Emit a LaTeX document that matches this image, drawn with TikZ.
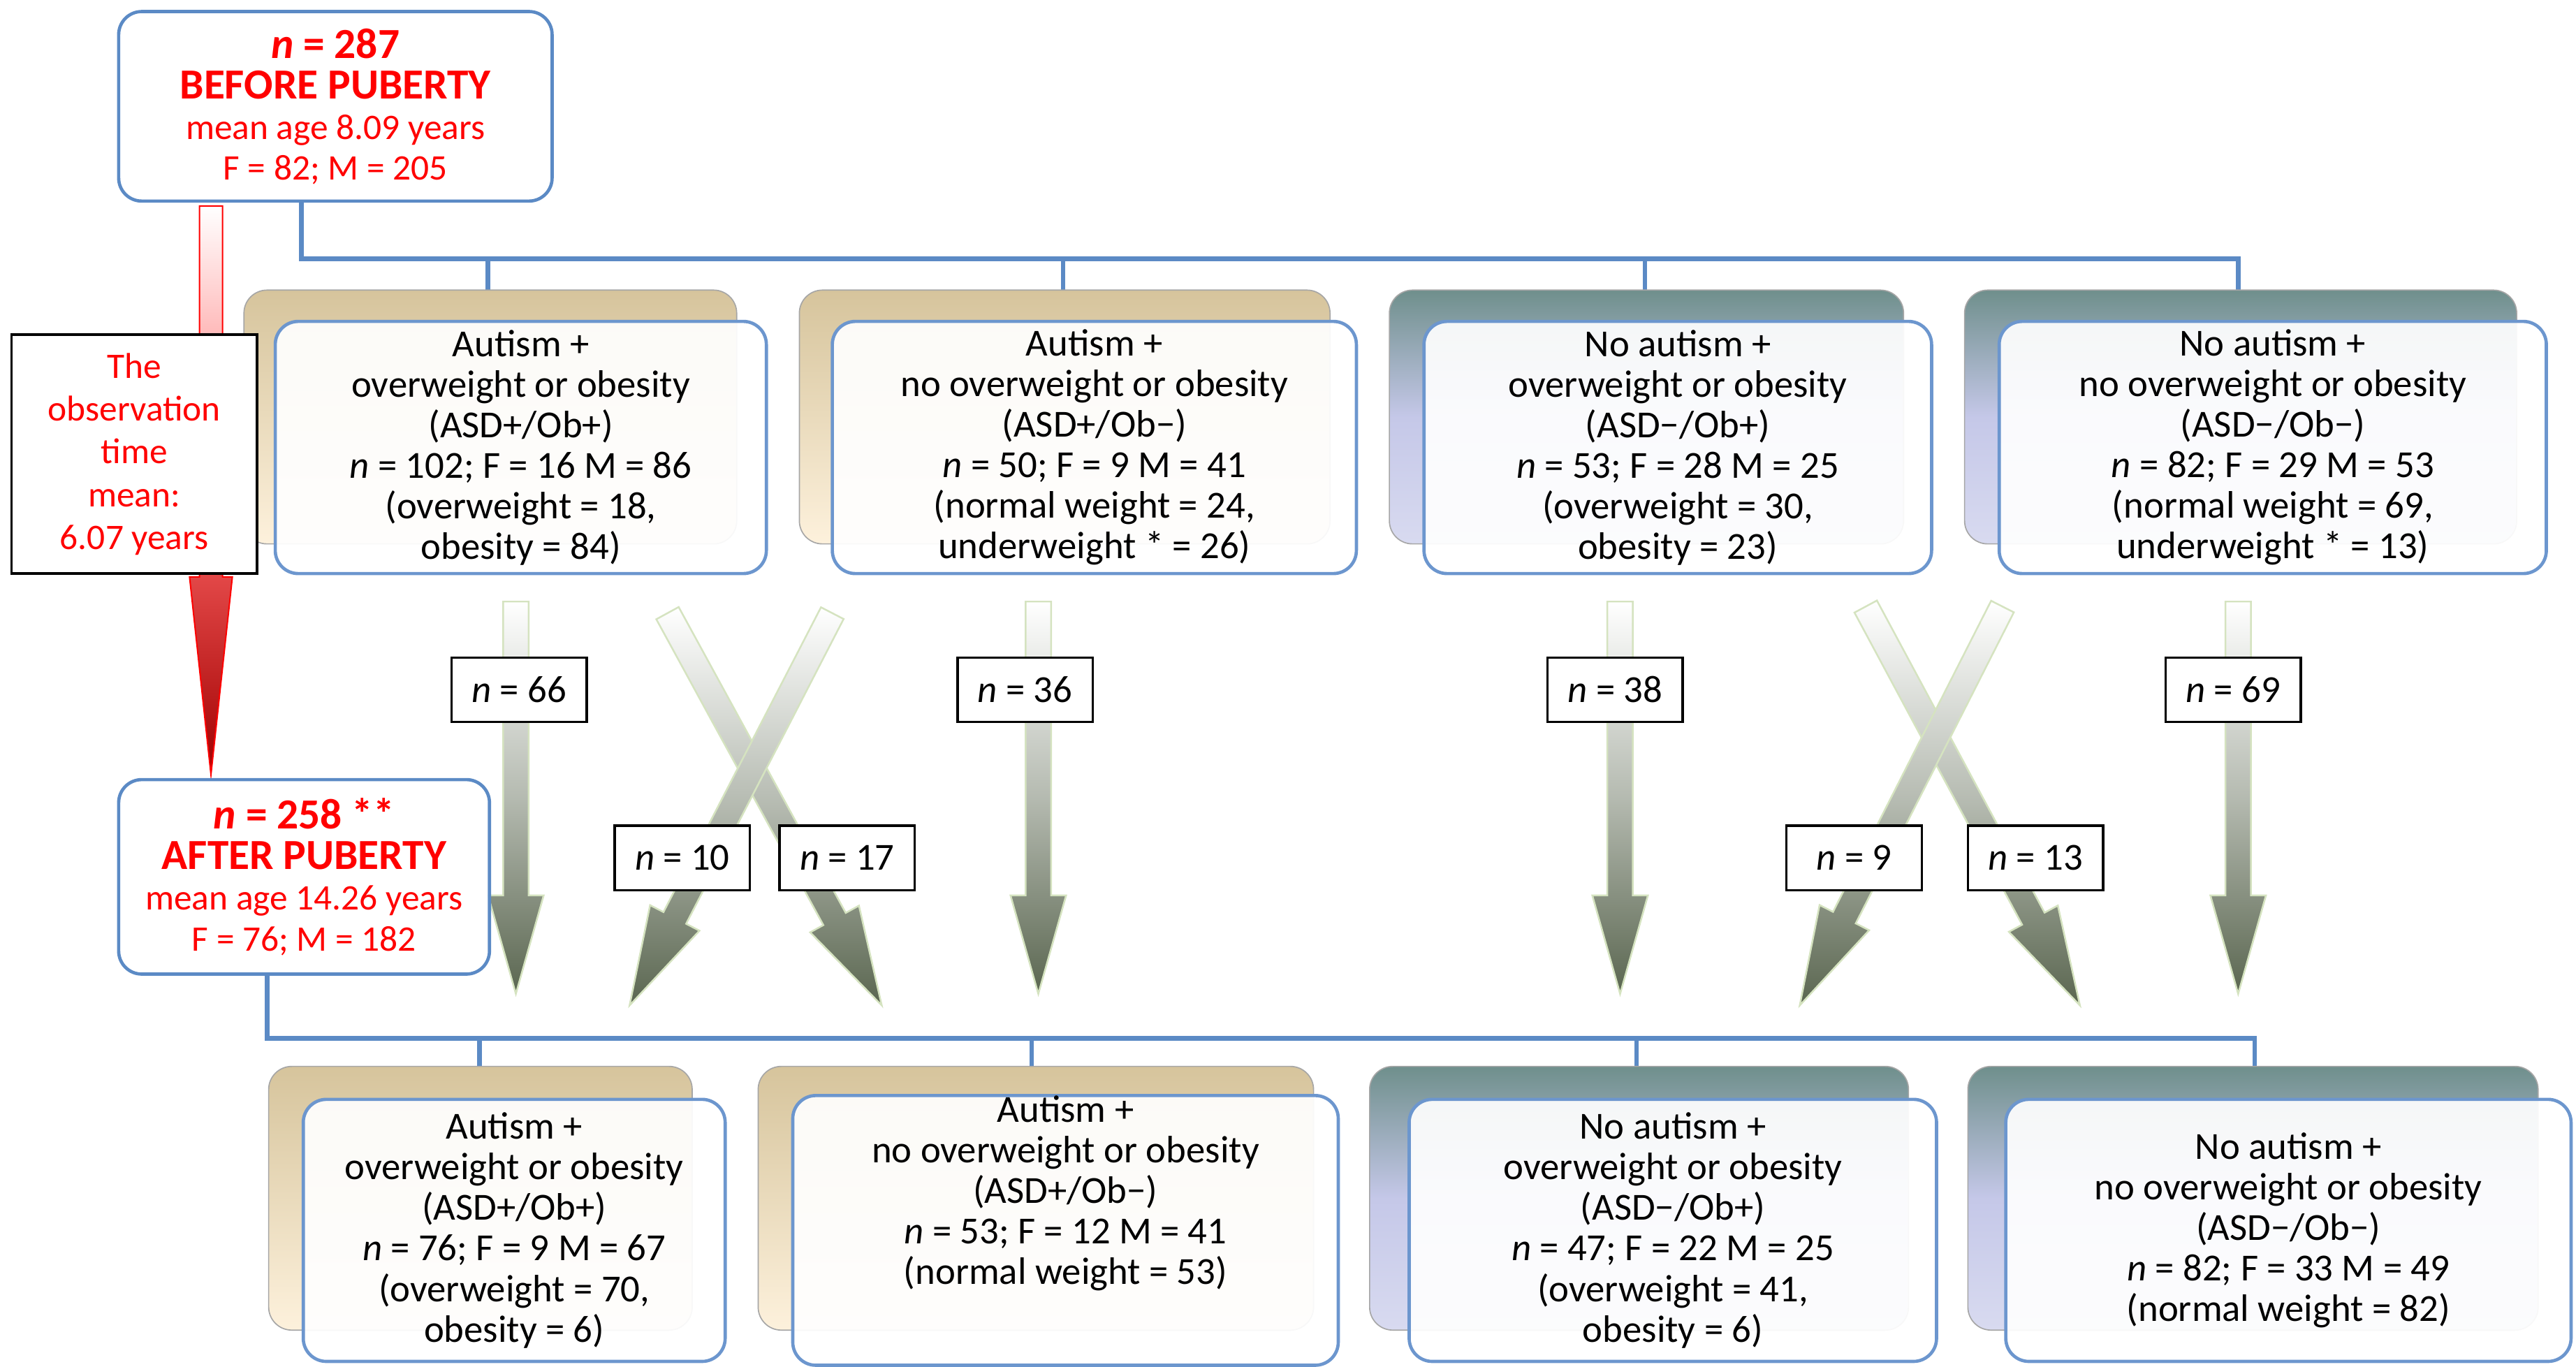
\documentclass[tikz,border=0pt]{standalone}
\usepackage{fontspec}
\setmainfont{Carlito}
\usetikzlibrary{calc}
\definecolor{bl}{HTML}{5B8AC5}
\definecolor{fb}{HTML}{6C96CE}
\definecolor{rd}{HTML}{FF0000}
\definecolor{tanA}{HTML}{D6C49C}
\definecolor{tanB}{HTML}{FDF1DC}
\definecolor{tealA}{HTML}{6F8F8C}
\definecolor{purB}{HTML}{9EA3D9}
\definecolor{gdark}{HTML}{5A6650}
\definecolor{gedge}{HTML}{D5E3C0}
\definecolor{rdark}{HTML}{A00000}
\newcommand\garrow[5]{% start, end, name, shaft half, head half
  \coordinate (#3s) at #1; \coordinate (#3e) at #2;
  \coordinate (#3h) at ($(#3e)!85pt!(#3s)$);
  \shade[draw=gedge,line width=1.5pt,top color=white,bottom color=gdark,middle color=gdark!45!white]
   ($(#3s)!#4!90:(#3e)$) -- ($(#3h)!#4!-90:(#3s)$) -- ($(#3h)!#5!-90:(#3s)$) -- (#3e)
   -- ($(#3h)!#5!90:(#3s)$) -- ($(#3h)!#4!90:(#3s)$) -- ($(#3s)!#4!-90:(#3e)$) -- cycle;}
\begin{document}
\begin{tikzpicture}[x=0.05cm,y=0.05cm,
  every node/.style={font=\fontsize{33}{35}\selectfont},
  back/.style={rounded corners=0.7cm,draw=gray!70,line width=1pt,inner sep=0pt},
  tanbox/.style={back,top color=tanA,bottom color=tanB},
  bluebox/.style={back,top color=tealA,bottom color=purB!40!white,middle color=purB!60!white},
  front/.style={rounded corners=0.7cm,draw=fb,line width=2.8pt,fill=white,fill opacity=0.92,text opacity=1,align=center,inner sep=0pt},
  lab/.style={draw=black,line width=2pt,fill=white,minimum width=4.1cm,minimum height=1.95cm,inner sep=0pt},
  tree/.style={draw=bl,line width=4pt}]
\useasboundingbox (0,0) rectangle (1563,-829);
% red arrow
\shade[draw=rd,line width=1.2pt,top color=white,bottom color=rdark,middle color=rd!60!white]
 (121,-125) -- (135,-125) -- (135,-350) -- (141,-350) -- (128,-470) -- (115,-350) -- (121,-350) -- cycle;
% top box & tree
\node[front,draw=bl,text=rd,minimum width=13.15cm,minimum height=5.75cm] (top) at (203.5,-64.5)
 {\fontsize{37}{44}\selectfont\bfseries\textit{n} = 287\\\fontsize{37}{43}\selectfont\bfseries BEFORE PUBERTY\\\fontsize{31}{34}\selectfont mean age 8.09 years\\ \fontsize{31}{34}\selectfont F = 82; M = 205};
\coordinate (t0) at (183,-122); \coordinate (t1) at (183,-157); \coordinate (t2) at (1358,-157);
\draw[tree] (t0) -- (t1) -- (t2) -- (1358,-176);
\foreach \x in {296,645,998}{\draw[tree] (\x,-157) -- (\x,-176);}
% upper boxes
\node[tanbox,minimum width=14.95cm,minimum height=7.7cm] (b1) at (297.5,-253) {};
\node[tanbox,minimum width=16.1cm,minimum height=7.7cm] (b2) at (646,-253) {};
\node[bluebox,minimum width=15.6cm,minimum height=7.7cm] (b3) at (999,-253) {};
\node[bluebox,minimum width=16.75cm,minimum height=7.7cm] (b4) at (1359.5,-253) {};
\node[front,minimum width=14.9cm,minimum height=7.65cm] (f1) at (316,-271.5)
 {Autism +\\overweight or obesity\\(ASD+/Ob+)\\\textit{n} = 102; F = 16 M = 86\\(overweight = 18,\\obesity = 84)};
\node[front,minimum width=15.9cm,minimum height=7.65cm] (f2) at (664,-271.5)
 {Autism +\\no overweight or obesity\\(ASD+/Ob−)\\\textit{n} = 50; F = 9 M = 41\\(normal weight = 24,\\underweight * = 26)};
\node[front,minimum width=15.4cm,minimum height=7.65cm] (f3) at (1018,-271.5)
 {No autism +\\overweight or obesity\\(ASD−/Ob+)\\\textit{n} = 53; F = 28 M = 25\\(overweight = 30,\\obesity = 23)};
\node[front,minimum width=16.6cm,minimum height=7.65cm] (f4) at (1379,-271.5)
 {No autism +\\no overweight or obesity\\(ASD−/Ob−)\\\textit{n} = 82; F = 29 M = 53\\(normal weight = 69,\\underweight * = 13)};
% observation box
\node[draw=black,line width=2pt,fill=white,text=rd,align=center,minimum width=7.45cm,minimum height=7.25cm,inner sep=0pt,font=\fontsize{31}{37}\selectfont] (obs) at (81.5,-275.5)
 {The\\observation\\time\\mean:\\6.07 years};
% green arrows
\garrow{(313,-365)}{(313,-603)}{a1}{11pt}{24pt}
\garrow{(630,-365)}{(630,-603)}{a2}{11pt}{24pt}
\garrow{(983,-365)}{(983,-603)}{a3}{11pt}{24pt}
\garrow{(1358,-365)}{(1358,-603)}{a4}{11pt}{24pt}
\garrow{(405,-372)}{(535,-610)}{c1}{11pt}{24pt}
\garrow{(505,-372)}{(382,-610)}{c2}{11pt}{24pt}
\garrow{(1132,-368)}{(1262,-610)}{c3}{11pt}{24pt}
\garrow{(1215,-368)}{(1092,-610)}{c4}{11pt}{24pt}
% labels
\node[lab] (l66) at (315,-418.5) {\textit{n} = 66};
\node[lab] (l36) at (622,-418.5) {\textit{n} = 36};
\node[lab] (l38) at (980,-418.5) {\textit{n} = 38};
\node[lab] (l69) at (1355,-418.5) {\textit{n} = 69};
\node[lab] (l10) at (414,-520.5) {\textit{n} = 10};
\node[lab] (l17) at (514,-520.5) {\textit{n} = 17};
\node[lab] (l9) at (1125,-520.5) {\textit{n} = 9};
\node[lab] (l13) at (1235,-520.5) {\textit{n} = 13};
% after box & tree
\node[front,draw=bl,text=rd,minimum width=11.25cm,minimum height=5.9cm] (aft) at (184.5,-532)
 {\fontsize{37}{44}\selectfont\bfseries\textit{n} = 258 **\\\fontsize{37}{43}\selectfont\bfseries AFTER PUBERTY\\\fontsize{31}{34}\selectfont mean age 14.26 years\\ \fontsize{31}{34}\selectfont F = 76; M = 182};
\coordinate (u0) at (162,-591); \coordinate (u1) at (162,-630); \coordinate (u2) at (1368,-630);
\draw[tree] (u0) -- (u1) -- (u2) -- (1368,-648);
\foreach \x in {291,626,993}{\draw[tree] (\x,-630) -- (\x,-648);}
% lower boxes
\node[tanbox,minimum width=12.85cm,minimum height=8cm] (d1) at (291.5,-727) {};
\node[tanbox,minimum width=16.85cm,minimum height=8cm] (d2) at (628.5,-727) {};
\node[bluebox,minimum width=16.35cm,minimum height=8cm] (d3) at (994.5,-727) {};
\node[bluebox,minimum width=17.3cm,minimum height=8cm] (d4) at (1367,-727) {};
\node[front,minimum width=12.8cm,minimum height=7.95cm] (g1) at (312,-746.5)
 {Autism +\\overweight or obesity\\(ASD+/Ob+)\\\textit{n} = 76; F = 9 M = 67\\(overweight = 70,\\obesity = 6)};
\node[front,minimum width=16.55cm,minimum height=7.95cm] (g2) at (646.5,-746.5)
 {Autism +\\no overweight or obesity\\(ASD+/Ob−)\\\textit{n} = 53; F = 12 M = 41\\(normal weight = 53)\\[35pt]};
\node[front,minimum width=16cm,minimum height=7.95cm] (g3) at (1015,-746.5)
 {No autism +\\overweight or obesity\\(ASD−/Ob+)\\\textit{n} = 47; F = 22 M = 25\\(overweight = 41,\\obesity = 6)};
\node[front,minimum width=17.15cm,minimum height=7.95cm] (g4) at (1388.5,-746.5)
 {No autism +\\no overweight or obesity\\(ASD−/Ob−)\\\textit{n} = 82; F = 33 M = 49\\(normal weight = 82)};
\end{tikzpicture}
\end{document}
